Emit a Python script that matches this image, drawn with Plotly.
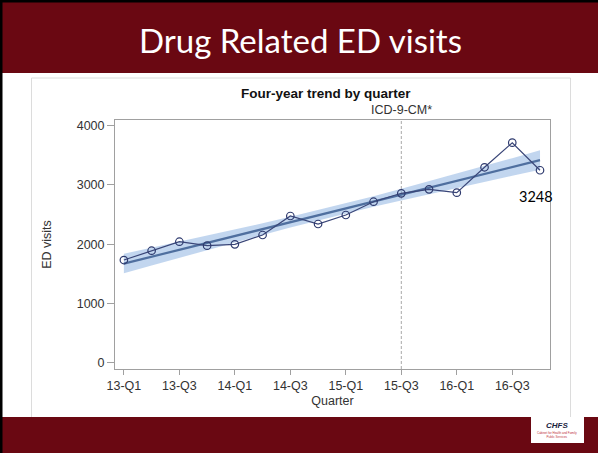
import numpy as np
import plotly.graph_objects as go

# ---- data ----
quarters = ["13-Q1", "13-Q2", "13-Q3", "13-Q4",
            "14-Q1", "14-Q2", "14-Q3", "14-Q4",
            "15-Q1", "15-Q2", "15-Q3", "15-Q4",
            "16-Q1", "16-Q2", "16-Q3", "16-Q4"]
ed_visits = [1733, 1890, 2042, 1975,
             1998, 2155, 2476, 2341,
             2493, 2717, 2859, 2926,
             2870, 3298, 3713, 3248]
icd_change_quarter = "15-Q3"
y_ticks = [0, 1000, 2000, 3000, 4000]

W, H = 598, 453
L, R, T, B = 115, 550, 120, 369  # plot area in pixels

def px(x):
    return (x - L) / (R - L)

def py(y):
    return (B - y) / (B - T)

x = np.arange(len(quarters), dtype=float)
yv = np.array(ed_visits, dtype=float)

# linear regression fit with 95% confidence band for the mean
n = len(x)
slope, intercept = np.polyfit(x, yv, 1)
fit = intercept + slope * x
resid = yv - fit
s = np.sqrt(np.sum(resid ** 2) / (n - 2))
t_crit = 2.1448  # t(0.975, df=14)
se = s * np.sqrt(1.0 / n + (x - x.mean()) ** 2 / np.sum((x - x.mean()) ** 2))
upper = fit + t_crit * se
lower = fit - t_crit * se

fig = go.Figure()

# confidence band
fig.add_trace(go.Scatter(
    x=np.concatenate([x, x[::-1]]),
    y=np.concatenate([upper, lower[::-1]]),
    fill="toself", fillcolor="rgba(120,165,220,0.45)",
    line=dict(width=0), hoverinfo="skip", showlegend=False))

# regression line
fig.add_trace(go.Scatter(
    x=x, y=fit, mode="lines",
    line=dict(color="#4f6f9f", width=2.2), showlegend=False))

# observed series
fig.add_trace(go.Scatter(
    x=x, y=yv, mode="lines+markers",
    line=dict(color="#3a4678", width=1.2),
    marker=dict(symbol="circle-open", size=7.5, color="#2e3a6e",
                line=dict(width=1.2)),
    showlegend=False))

ix = quarters.index(icd_change_quarter)

shapes = [
    # chart image box
    dict(type="rect", xref="paper", yref="paper",
         x0=px(31.5), x1=px(570.5), y0=py(418), y1=py(78),
         line=dict(color="#dcdcdc", width=1), fillcolor="white", layer="below"),
    # header band
    dict(type="rect", xref="paper", yref="paper",
         x0=px(2), x1=px(W + 2), y0=py(73), y1=py(2),
         line=dict(width=0), fillcolor="#6a0812", layer="above"),
    # footer band
    dict(type="rect", xref="paper", yref="paper",
         x0=px(2), x1=px(W + 2), y0=py(H + 2), y1=py(417),
         line=dict(width=0), fillcolor="#6a0812", layer="above"),
    # black slide border (top, left)
    dict(type="rect", xref="paper", yref="paper",
         x0=px(-1), x1=px(W + 2), y0=py(2.5), y1=py(-1),
         line=dict(width=0), fillcolor="black", layer="above"),
    dict(type="rect", xref="paper", yref="paper",
         x0=px(-1), x1=px(2.5), y0=py(H + 2), y1=py(-1),
         line=dict(width=0), fillcolor="black", layer="above"),
    # logo box
    dict(type="rect", xref="paper", yref="paper",
         x0=px(531), x1=px(584), y0=py(443), y1=py(417),
         line=dict(width=0), fillcolor="white", layer="above"),
    # ICD change reference line
    dict(type="line", xref="x", yref="paper",
         x0=ix, x1=ix, y0=0, y1=1,
         line=dict(color="#a8a8a8", width=1, dash="3px,2px"), layer="below"),
]

def note(text, xx, yy, font, xref="paper", yref="paper", **kw):
    return dict(text=text, xref=xref, yref=yref, x=xx, y=yy, showarrow=False,
                xanchor="center", yanchor="middle", font=font, **kw)

annotations = [
    note("Drug Related ED visits", px(300), py(40),
         dict(family="Lato", size=33, color="white")),
    note("<b>Four-year trend by quarter</b>", px(326), py(93),
         dict(family="Liberation Sans", size=13.5, color="#111")),
    note("ICD-9-CM*", ix, py(110),
         dict(family="Liberation Sans", size=12.5, color="#333"), xref="x"),
    note(str(ed_visits[-1]), len(quarters) - 1.15, ed_visits[-1],
         dict(family="Lato", size=14.5, color="black"), xref="x", yref="y", yshift=-26),
    note("<b><i>CHFS</i></b>", px(557), py(425),
         dict(family="Liberation Sans", size=8, color="#1a2340")),
    note("Cabinet for Health and Family<br>Public Services", px(557), py(435),
         dict(family="Liberation Sans", size=3, color="#c0303a")),
]

axis_font = dict(family="Liberation Sans", size=12.5, color="#333")
title_font = dict(family="Liberation Sans", size=12.5, color="#333")

fig.update_layout(
    width=W, height=H,
    margin=dict(l=L, r=W - R, t=T, b=H - B, pad=0),
    paper_bgcolor="white", plot_bgcolor="white",
    shapes=shapes, annotations=annotations,
    showlegend=False,
    xaxis=dict(
        range=[-0.32, 15.36], tickmode="array",
        tickvals=list(x[::2]), ticktext=quarters[::2],
        showgrid=False, zeroline=False,
        showline=True, linecolor="#a0a0a0", linewidth=1, mirror=True,
        ticks="outside", ticklen=5, tickcolor="#a0a0a0",
        tickfont=axis_font,
        title=dict(text="Quarter", standoff=4, font=title_font)),
    yaxis=dict(
        range=[-106, 4096], tickmode="array", tickvals=y_ticks,
        showgrid=False, zeroline=False,
        showline=True, linecolor="#a0a0a0", linewidth=1, mirror=True,
        ticks="outside", ticklen=7, tickcolor="#a0a0a0",
        tickfont=axis_font,
        title=dict(text="ED visits", standoff=22, font=title_font)),
)

fig.write_html("out.html", config={"displayModeBar": False},
               post_script="document.body.style.margin='0px';")
